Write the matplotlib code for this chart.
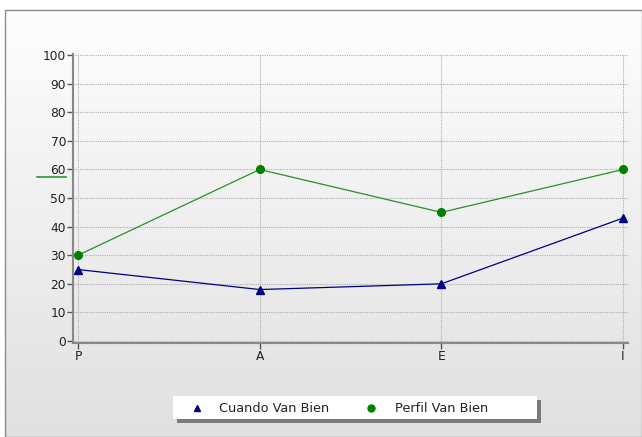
import numpy as np
import matplotlib.pyplot as plt
from matplotlib.patches import Rectangle

categories = ['P', 'A', 'E', 'I']
cuando_van_bien = [25, 18, 20, 43]
perfil_van_bien = [30, 60, 45, 60]
y_ticks = list(range(0, 101, 10))

W, H = 642, 437
fig = plt.figure(figsize=(W / 100, H / 100), dpi=100)
fig.patch.set_facecolor('white')

# gradient panel behind everything
bg = fig.add_axes([0, 0, 1, 1], zorder=0)
bg.set_xlim(0, W)
bg.set_ylim(H, 0)
bg.axis('off')
grad = np.linspace(0.995, 0.88, 256).reshape(-1, 1)
bg.imshow(np.dstack([grad, grad, grad]), extent=(5, W, H, 10), aspect='auto')
bg.add_patch(Rectangle((5, 10), W - 5, H - 10, fill=False, ec='#8a8a8a', lw=1))
bg.plot([37, 66], [177, 177], color='#2e9a2e', lw=1.2)

# legend box with shadow
bg.add_patch(Rectangle((177, 400), 364, 23, fc='#7a7a7a', ec='none'))
bg.add_patch(Rectangle((173, 396), 364, 23, fc='white', ec='none'))
bg.plot([197], [408], marker='^', color='#000080', ms=5)
bg.text(219, 408.5, 'Cuando Van Bien', va='center', ha='left', fontsize=9.3, color='#222222')
bg.plot([371], [408], marker='o', color='#008000', ms=5)
bg.text(395, 408.5, 'Perfil Van Bien', va='center', ha='left', fontsize=9.3, color='#222222')

ax = fig.add_axes([73 / W, 1 - 343 / H, (628 - 73) / W, (343 - 54) / H], zorder=1)
ax.patch.set_alpha(0)
x = np.arange(len(categories))
ax.plot(x, cuando_van_bien, color='#000080', lw=0.9, marker='^', ms=5.5, zorder=3)
ax.plot(x, perfil_van_bien, color='#2a8f2a', lw=0.9, marker='o', ms=5.5,
        mfc='#008000', mec='#008000', zorder=3)

ax.set_xlim(-5 / 181.67, 3 + 5 / 181.67)
ax.set_ylim(-0.7, 100.4)
ax.set_xticks(x)
ax.set_xticklabels(categories)
ax.set_yticks(y_ticks)
ax.grid(True, color='#b0b0b0', ls=(0, (1, 1)), lw=0.8)
for side in ['top', 'right']:
    ax.spines[side].set_visible(False)
for side in ['left', 'bottom']:
    ax.spines[side].set_color('#888888')
    ax.spines[side].set_linewidth(1.5)
ax.tick_params(axis='both', colors='#555555', labelcolor='#222222', labelsize=8.8,
               length=4, width=1, pad=1)

fig.savefig('out.png', dpi=100)
